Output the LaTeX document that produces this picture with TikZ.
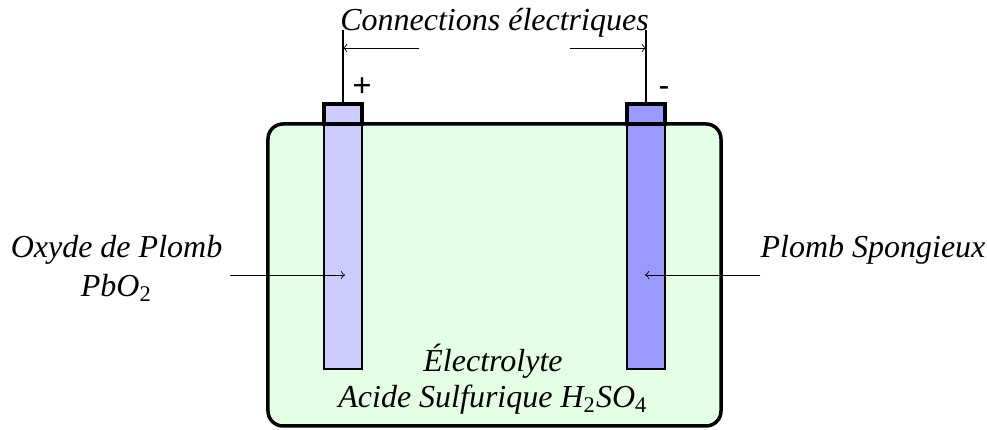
\documentclass[tikz,border=0pt]{standalone}
\usepackage{fontspec}
\setmainfont{Liberation Serif}
\newfontfamily\signfont{Liberation Sans}
\usetikzlibrary{positioning}
\definecolor{acide}{RGB}{229,255,229}
\definecolor{oxyde}{RGB}{204,204,255}
\definecolor{plomb}{RGB}{153,153,255}
\newcommand{\indice}[1]{{\upshape\textsubscript{#1}}}

\begin{document}
\begin{tikzpicture}
  [x=0.4pt, y=0.4pt,
   every node/.style={shape=rectangle, align=center, inner sep=0pt, font=\fontsize{12.8pt}{15.6pt}\selectfont\itshape},
   bac/.style={draw, line width=1.4pt, rounded corners=6pt, fill=acide, minimum width=181.2pt, minimum height=120.8pt},
   plaque/.style={draw, line width=0.8pt, minimum width=15.2pt, minimum height=98pt},
   borne/.style={draw, line width=1.4pt, minimum width=15.2pt, minimum height=8pt},
   fil/.style={line width=0.6pt},
   fleche/.style={->, line width=0.35pt},
   signe/.style={anchor=base, font=\fontsize{13pt}{15pt}\selectfont\signfont}]
  \useasboundingbox (0,0) rectangle (987,430);
  \node[bac] (bac) at (494.5,155) {};
  \node[plaque, fill=oxyde] (plaqueA) at (343,183.5) {};
  \node[plaque, fill=plomb] (plaqueB) at (646,183.5) {};
  \node[borne, fill=oxyde] (borneA) at (343,316) {};
  \node[borne, fill=plomb] (borneB) at (646,316) {};
  % connections
  \coordinate (finA) at (343,400);
  \coordinate (finB) at (646,400);
  \draw[fil] (borneA.north) -- (finA);
  \draw[fil] (borneB.north) -- (finB);
  \node[anchor=base] (titre) at (494.5,399) {Connections électriques};
  \node[signe] (plus) at (362,333.5) {+};
  \node[signe] (moins) at (664,333.5) {-};
  \coordinate (departA) at (419,382);
  \coordinate (departB) at (570,382);
  \coordinate (ciblA) at (343,382);
  \coordinate (ciblB) at (646,382);
  \draw[fleche] (departA) -- (ciblA);
  \draw[fleche] (departB) -- (ciblB);
  % plaques
  \node[anchor=base] (oxydeTxt) at (116.5,133) {Oxyde de Plomb\\PbO\indice{2}};
  \node[anchor=base] (spongieux) at (873,172) {Plomb Spongieux};
  \coordinate (departC) at (230,155);
  \coordinate (departD) at (760,155);
  \coordinate (ciblC) at (345,155);
  \coordinate (ciblD) at (645,155);
  \draw[fleche] (departC) -- (ciblC);
  \draw[fleche] (departD) -- (ciblD);
  \node[anchor=base, font=\fontsize{12.8pt}{14.4pt}\selectfont\itshape] (electrolyte) at (493,22) {Électrolyte\\Acide Sulfurique H\indice{2}SO\indice{4}};
\end{tikzpicture}
\end{document}
